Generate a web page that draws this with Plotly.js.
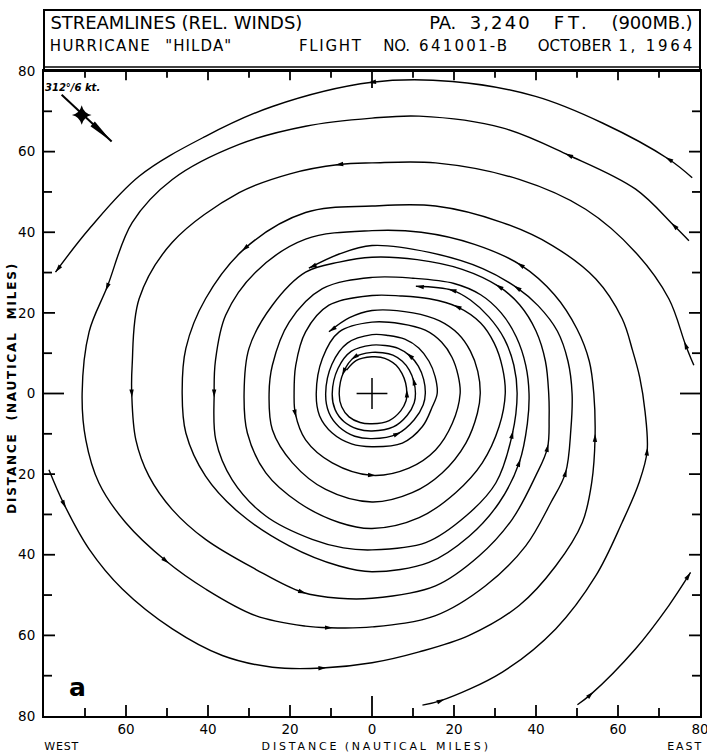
<!DOCTYPE html>
<html><head><meta charset="utf-8">
<script src="https://cdn.plot.ly/plotly-3.0.1.min.js"></script>
<style>html,body{margin:0;padding:0;background:#fff}</style>
</head><body><div id="chart" style="width:707px;height:752px"></div>
<script>
// ---------------- DATA (nautical miles from storm centre; east/north positive) ----------------
const streamC1 = [[78.1,53.5],[72.4,58.1],[56.2,67.1],[39.9,73.7],[19.6,77.4],[0,77.2],[-24.3,71.2],[-40.6,63.8],[-56.8,53.9],[-69,40.8],[-77.2,30.1]];

const streamBne = [[77.3,37.9],[73.7,41.6],[64.3,50.7],[48,59.1],[31.8,65.9],[11.5,68.8],[0,68.3],[-16.2,66.3],[-32.4,61.8],[-48.7,53.1],[-58.5,42.4],[-64.6,26.4],[-69,15.3],[-70.7,0],[-69.8,-11.5],[-66.6,-22.2],[-60.1,-32],[-50.3,-41.5],[-40.6,-48.5],[-28.4,-55.1],[-16.2,-57.7],[-10.5,-58.1],[0,-57.9],[15.5,-55.1],[27.7,-47.7],[37.5,-37.8],[43.6,-27.1],[47.2,-19.7],[48.5,-9],[48.8,0],[47.8,8],[45.2,15.5],[40.5,21.8],[35.4,26.2],[27,31],[14,35],[0,36.7],[-8,34.6],[-15.4,31.1]];

const streamCne = [[78.5,7],[76.5,12],[72.4,23.5],[64.3,35],[52.1,45.7],[35.9,53.1],[15.5,57.2],[0,57.2],[-8,56.8],[-20,54.5],[-32.4,49.8],[-48.7,37.5],[-56.8,23.5],[-58.5,7],[-58.6,0],[-57.6,-11.5],[-54.4,-20.5],[-48.7,-28.8],[-40.6,-36.2],[-28.4,-43.6],[-17,-49.3],[-8,-50.8],[0,-50.8],[15.5,-47.7],[26.1,-40.3],[34.2,-31.2],[39.9,-20.5],[42.8,-13.5],[43.2,-6],[43.1,0],[42.3,8],[40,15.5],[36,22],[31,26.5],[22,30.8],[11,33.2],[0,33.8],[-8,32.6],[-16.2,30.1],[-24.3,21.9],[-30,11.2],[-31.2,0],[-30.4,-9.8],[-25.9,-19.7],[-17.8,-27.1],[-8,-32],[0,-33.5],[11.5,-30.8],[20.4,-24.6],[26.9,-17.2],[31,-8.2],[32.5,0],[31.8,6.5],[29.8,12.5],[26.5,17.5],[20.8,21.5],[14,23.5],[7,24.2],[0,24.3],[-10.5,21.9],[-16.2,15.3],[-18.6,7],[-19,0],[-18.7,-5],[-16.2,-11.5],[-9.7,-17.2],[0,-20.3],[9,-18.5],[15.5,-14],[19.6,-7.4],[21.5,0],[21,4.5],[19.5,9],[17,12.7],[13,15.7],[7,17.3],[0,17.7],[-8,15.3],[-12.1,8.7],[-13.6,0],[-12.8,-5.5],[-9.7,-9.8],[-5,-12.5],[0,-13.2],[7.4,-12.3],[12.3,-8.2],[14.7,-3.3],[15.9,0],[15.4,4.2],[13.9,8],[11.4,11.3],[8,13.5],[4,14.4],[0,14.6],[-6,12.5],[-9.8,7.2],[-11.3,0],[-10.5,-4.8],[-8,-8.3],[-4.2,-10.6],[0,-11.2],[6.2,-10],[10.3,-6.5],[12.5,-2.8],[13,0],[12.6,3.5],[11.3,6.8],[9.2,9.4],[6.4,11.2],[3.2,11.9],[0,12],[-5,10.5],[-8.3,6.2],[-9.7,0],[-9,-4],[-6.8,-7],[-3.5,-8.8],[0,-9.3],[5.2,-8.3],[8.6,-5.4],[10.3,-2.3],[10.6,0],[10.2,3],[9.1,5.8],[7.4,8],[5.1,9.5],[2.6,10.1],[0,10.2],[-4.3,9],[-6.9,5.4],[-8,0],[-7.4,-3.3],[-5.6,-5.8],[-2.9,-7.2],[0,-7.5],[4.2,-6.7],[7,-4.3],[8.3,-1.8],[8.5,0],[8.2,2.6],[7.3,5],[5.9,7],[4.1,8.3],[2.1,9],[0,9.1],[-3.8,8.2],[-6.2,5.8]];

const streamD = [[12.3,-77.3],[16.8,-76.2],[31.8,-69.1],[44.8,-58.4],[54.6,-45.2],[61,-32],[65.1,-22.2],[67.1,-14.4],[66.6,-4.5],[65.3,4],[63.6,10.5],[61,18.6],[54.6,28.4],[44,36.7],[31.8,42.4],[15.5,46.5],[0,46.5],[-16.2,44.9],[-31,36],[-40.6,23.5],[-45.4,11.2],[-46.3,0],[-45.4,-9.8],[-40.6,-20.5],[-32.4,-29.6],[-20.2,-37.8],[-8,-42.8],[0,-44.2],[13.9,-41.9],[23.7,-35.4],[31,-27.1],[35.9,-17.2],[37.9,-7.4],[38.3,0],[37.5,7],[35.2,14],[31.5,20],[26.5,24.5],[20,27.3],[10,28.6],[0,28.8],[-12.1,26],[-20.2,17.7],[-24.3,7],[-25.1,0],[-24.3,-9],[-19.4,-17.2],[-11.3,-23.8],[0,-26.9],[9.8,-24.6],[17.1,-19.7],[22.9,-12.3],[25.7,-4.9],[26.4,0],[25.8,5.5],[24,10.5],[21,14.8],[16.5,18],[10,20],[0,20.6],[-5.5,18.8],[-10.5,15.3]];

const streamBsw = [[-78.8,-18.9],[-75.1,-27.5],[-69,-38.6],[-60.9,-48.5],[-48.7,-58.4],[-36.5,-65],[-24.3,-67.9],[-12.1,-68.1],[0,-66.8],[11.5,-64.1],[23.7,-60],[35.9,-52.6],[44.8,-42.8],[51.3,-32],[53.6,-22],[54.4,-11],[54.1,0],[53,8],[50,16],[44.5,24.5],[36.2,31.9],[25,37],[12,40],[0,40.4],[-16.2,38.3],[-28.4,30.1],[-35.7,19.4],[-38.2,8],[-38.5,0],[-38.1,-11.5],[-34.1,-21.4],[-25.9,-30.4],[-14.6,-36.2],[-7,-38.3],[0,-38.8],[13.1,-37],[22.9,-30.4],[30.2,-22.2],[34.2,-10.2],[35.4,0],[34.6,7],[32.3,13.5],[28.5,19],[24,23.2],[19.6,25.6],[10.7,26.6]];

const streamE = [[50.1,-77.2],[53.3,-74.7],[64.3,-63.3],[72.4,-52.6],[77.7,-44.4]];

// positions of the small flow arrows read along the streamlines
const flowArrows = [[1.7,77.4],[74.1,57.2],[73.7,41.6],[48,59.1],[-64.6,26.4],[-50.3,-41.5],[-10.5,-58.1],[47.2,-19.7],[35.4,26.2],
  [76.5,12],[-8,56.8],[-58.6,0],[-17,-49.3],[42.8,-13.5],[31,26.5],[20.8,21.5],[-18.7,-5],[0,-20.3],[6.2,-10],[9.2,9.4],[-4.3,9],[-6.9,5.4],[8.5,0],[10.2,3],
  [16.8,-76.2],[67.1,-14.4],[-31,36],[35.9,-17.2],
  [-75.1,-27.5],[-12.1,-68.1],[54.4,-11],[36.2,31.9],[-38.5,0],[34.2,-10.2],[19.6,25.6],
  [53.3,-74.7]];

// storm motion vector 312 deg / 6 kt
const windTail = [-75.7,74.1];
const windTip = [-63.5,62.5];
const windStar = [-70.8,69.1];
const windLabel = '312°/6 kt.';
const stormCentre = [0,0];

const xTickVals = [-60,-40,-20,0,20,40,60,80];
const xTickText = ['60','40','20','0','20','40','60','80'];
const yTickVals = [-80,-60,-40,-20,0,20,40,60,80];
const yTickText = ['80','60','40','20','0','20','40','60','80'];
const majorTickVals = [-60,-40,-20,20,40,60];
const minorTickVals = [-70,-50,-30,-10,10,30,50,70];

// ---------------- LAYOUT HELPERS ----------------
const W = 707, H = 752;
const M = {l:44, r:7, t:71, b:36};
const pw = W - M.l - M.r, ph = H - M.t - M.b;
const sx = pw/160, sy = ph/160;
const px2x = px => (px - M.l)/pw;
const py2y = py => (H - M.b - py)/ph;
const FONT = 'DejaVu Sans, Liberation Sans, sans-serif';

const chains = [streamC1, streamBne, streamCne, streamD, streamBsw, streamE];
const tipChains = [streamC1, streamBne, streamD, streamBsw, streamE];

function headShape(tip, dir, Lpx, Wpx, centred){
  let dx = dir[0]*sx, dy = dir[1]*sy; const n = Math.hypot(dx,dy); dx/=n; dy/=n;
  let tx = tip[0], ty = tip[1];
  if (centred){ tx += dx*Lpx/2/sx; ty += dy*Lpx/2/sy; }
  const bx = tx - dx*Lpx/sx, by = ty - dy*Lpx/sy;
  const p1 = [bx - dy*Wpx/sx, by + dx*Wpx/sy];
  const p2 = [bx + dy*Wpx/sx, by - dx*Wpx/sy];
  return {type:'path', xref:'x', yref:'y', layer:'above',
    path:`M${tx},${ty}L${p1[0]},${p1[1]}L${p2[0]},${p2[1]}Z`,
    fillcolor:'#000', line:{width:0}};
}
function nearestVertex(p){
  let best=null;
  chains.forEach(c=>c.forEach((v,i)=>{const d=Math.hypot(v[0]-p[0],v[1]-p[1]); if(!best||d<best.d) best={d,c,i};}));
  return best;
}

const shapes = [];
flowArrows.forEach(p=>{
  const b = nearestVertex(p); const c=b.c, i=b.i;
  const a = c[Math.max(0,i-1)], z = c[Math.min(c.length-1,i+1)];
  shapes.push(headShape(c[i], [z[0]-a[0], z[1]-a[1]], 8, 2.2, true));
});
tipChains.forEach(c=>{
  const z=c[c.length-1], a=c[c.length-2];
  shapes.push(headShape(z, [z[0]-a[0], z[1]-a[1]], 8, 2.2, false));
});
shapes.push(headShape(windTip, [windTip[0]-windTail[0], windTip[1]-windTail[1]], 26, 3.2, false));

// title box and double rule
shapes.push({type:'rect', xref:'paper', yref:'paper', x0:0, x1:1, y0:1, y1:py2y(10), line:{color:'#000', width:2}});
shapes.push({type:'line', xref:'paper', yref:'paper', x0:0, x1:1, y0:py2y(67), y1:py2y(67), line:{color:'#000', width:1.5}});

// inward tick marks on all four sides
function tickSet(vals, len){
  const lx = len/sx, ly = len/sy;
  vals.forEach(v=>{
    shapes.push({type:'line', xref:'x', yref:'y', x0:v, x1:v, y0:-80, y1:-80+ly, line:{color:'#000', width:1.8}, layer:'above'});
    shapes.push({type:'line', xref:'x', yref:'y', x0:v, x1:v, y0:80, y1:80-0.85*ly, line:{color:'#000', width:1.8}, layer:'above'});
    shapes.push({type:'line', xref:'x', yref:'y', x0:-80, x1:-80+lx, y0:v, y1:v, line:{color:'#000', width:1.8}, layer:'above'});
    shapes.push({type:'line', xref:'x', yref:'y', x0:80, x1:80-lx, y0:v, y1:v, line:{color:'#000', width:1.8}, layer:'above'});
  });
}
tickSet(majorTickVals, 11);
tickSet(minorTickVals, 8);
tickSet([0], 20);

// text pieces: [text, centre px x, centre px y, fitted width px, size, weight, angle]
const texts = [
  ['STREAMLINES (REL. WINDS)',176,22,252,18,'normal',0],
  ['PA.',442,22,27,18,'normal',0],
  ['3,240',501,22,60,18,'normal',0],
  ['FT.',572,22,33,18,'normal',0],
  ['(900MB.)',652,22,81,18,'normal',0],
  ['HURRICANE',100,46,100,15,'normal',0],
  ['"HILDA"',198,46,66,15,'normal',0],
  ['FLIGHT',331,46,62,15,'normal',0],
  ['NO.',396,46,27,15,'normal',0],
  ['641001-B',464,46,88,15,'normal',0],
  ['OCTOBER',574,46,74,15,'normal',0],
  ['1, 1964',656,46,74,15,'normal',0],
  ['DISTANCE',300,746,75,11,'normal',0],
  ['(NAUTICAL',387,746,81,11,'normal',0],
  ['MILES)',463,746,52,11,'normal',0],
  ['WEST',62,746,34,11,'normal',0],
  ['EAST',685,746,34,11,'normal',0],
  ['DISTANCE  (NAUTICAL  MILES)',12,388,250,12,'bold',-90]
];
const fitWidths = {};
const annotations = texts.map(t=>{
  fitWidths[t[0]] = t[3];
  return {text:t[0], xref:'paper', yref:'paper', x:px2x(t[1]), y:py2y(t[2]), xanchor:'center', yanchor:'middle',
    showarrow:false, textangle:t[6], font:{family:FONT, size:t[4], color:'#000', weight:t[5]}};
});
annotations.push({text:windLabel, xref:'x', yref:'y', x:-73, y:75.9, showarrow:false, xanchor:'center', yanchor:'middle',
  font:{family:FONT, size:10, color:'#000', style:'italic', weight:'bold'}});
annotations.push({text:'a', xref:'x', yref:'y', x:-71.8, y:-72.9, showarrow:false, xanchor:'center', yanchor:'middle',
  font:{family:FONT, size:25, color:'#000', weight:'bold'}});

const traces = chains.map(c=>({x:c.map(p=>p[0]), y:c.map(p=>p[1]), mode:'lines', type:'scatter', hoverinfo:'skip',
  line:{color:'#000', width:1.4, shape:'spline', smoothing:1}}));
traces.push({x:[windTail[0], windTip[0]], y:[windTail[1], windTip[1]], mode:'lines', type:'scatter', hoverinfo:'skip', line:{color:'#000', width:2}});
traces.push({x:[windStar[0]], y:[windStar[1]], mode:'markers', type:'scatter', hoverinfo:'skip', marker:{symbol:'star-diamond', size:14, color:'#000'}});
traces.push({x:[stormCentre[0]], y:[stormCentre[1]], mode:'markers', type:'scatter', hoverinfo:'skip', marker:{symbol:'cross-thin', size:22, color:'#000', line:{color:'#000', width:1.5}}});

const axisCommon = {range:[-80,80], showgrid:false, zeroline:false, showline:true, linewidth:2, linecolor:'#000', mirror:true,
  ticks:'', tickmode:'array', fixedrange:true, ticklabeloverflow:'allow',
  tickfont:{family:FONT, size:13.5, color:'#000'}};

const layout = {width:W, height:H, margin:{l:M.l, r:M.r, t:M.t, b:M.b, pad:0}, showlegend:false,
  paper_bgcolor:'#fff', plot_bgcolor:'#fff', font:{family:FONT, color:'#000'},
  xaxis:Object.assign({}, axisCommon, {tickvals:xTickVals, ticktext:xTickText, ticklabelstandoff:0}),
  yaxis:Object.assign({}, axisCommon, {tickvals:yTickVals, ticktext:yTickText, ticklabelstandoff:4}),
  shapes:shapes, annotations:annotations};

Plotly.newPlot('chart', traces, layout, {staticPlot:true, displayModeBar:false}).then(()=>{
  document.querySelectorAll('text.annotation-text').forEach(t=>{
    const w = fitWidths[t.textContent]; if(!w) return;
    const n = t.textContent.length; const cur = t.getComputedTextLength();
    t.style.letterSpacing = ((w - cur)/Math.max(1,n-1)) + 'px';
  });
});
</script></body></html>
